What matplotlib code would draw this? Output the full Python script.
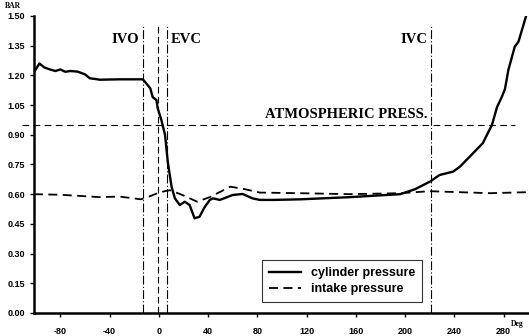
import matplotlib
matplotlib.use("Agg")
import matplotlib.pyplot as plt

# cylinder pressure (BAR) vs crank angle (Deg)
cyl_deg = [-101, -97, -93, -88.5, -84, -80, -76, -72, -66, -60, -56, -52, -48, -32,
           -13, -7, -5, -2, -1, 2, 5, 7.3, 10.3, 13, 17, 21, 25, 29, 33, 37.4,
           41.4, 44, 49.5, 55, 60, 68, 76, 82, 93, 115, 155, 196, 208, 220, 228,
           239, 244.5, 255, 263, 270.5, 274.6, 278.4, 281, 283.8, 289, 292, 298.7]
cyl_bar = [1.22, 1.26, 1.24, 1.23, 1.222, 1.23, 1.218, 1.222, 1.219, 1.205, 1.185,
           1.182, 1.178, 1.18, 1.18, 1.135, 1.09, 1.075, 1.035, 0.975, 0.90, 0.76,
           0.638, 0.579, 0.545, 0.562, 0.545, 0.478, 0.486, 0.537, 0.571, 0.579,
           0.571, 0.584, 0.596, 0.601, 0.579, 0.571, 0.571, 0.574, 0.585, 0.60,
           0.625, 0.663, 0.697, 0.714, 0.739, 0.806, 0.857, 0.95, 1.04, 1.09, 1.13,
           1.227, 1.345, 1.37, 1.51]

# intake pressure
int_deg = [-101.5, -80, -48, -32, -14.6, -7, 0.8, 9, 19.5, 31, 41.4, 58, 70, 82,
           114.5, 155, 196, 220, 244.5, 269, 299]
int_bar = [0.60, 0.597, 0.585, 0.588, 0.574, 0.59, 0.61, 0.62, 0.595, 0.562, 0.585,
           0.638, 0.625, 0.608, 0.605, 0.60, 0.605, 0.615, 0.61, 0.605, 0.61]

atm_press = 0.95
valve_deg = [-13, -1, 7, 221]
yticks = [0.00, 0.15, 0.30, 0.45, 0.60, 0.75, 0.90, 1.05, 1.20, 1.35, 1.50]
xticks = [-80, -40, 0, 40, 80, 120, 160, 200, 240, 280]

fig = plt.figure(figsize=(5.29, 3.36), dpi=100)
ax = fig.add_axes([0.0652, 0.0685, 0.9335, 0.884])

ax.plot(cyl_deg, cyl_bar, color="black", lw=1.7, label="cylinder pressure")
ax.plot(int_deg, int_bar, color="black", lw=1.3, ls=(0, (5, 3)), label="intake pressure")

ax.plot([-111, 289], [atm_press, atm_press], color="black", lw=0.8,
        ls=(0, (6, 4)), clip_on=False)
styles = [(0, (8, 2, 1, 2)), (0, (6, 3)), (0, (8, 2, 1, 2)), (0, (8, 2, 1, 2))]
for d, s in zip(valve_deg, styles):
    ax.plot([d, d], [0, 1.46], color="black", lw=0.8, ls=s)

serif = dict(family="Liberation Serif", weight="bold", fontsize=10.5)
ax.text(-16, 1.38, "IVO", ha="right", va="center", **serif)
ax.text(10, 1.38, "EVC", ha="left", va="center", **serif)
ax.text(218, 1.38, "IVC", ha="right", va="center", **serif)
ax.text(218, 1.00, "ATMOSPHERIC PRESS.", ha="right", va="center", **serif)

ax.set_xlim(-101, 300)
ax.set_ylim(0, 1.5)
ax.set_xticks(xticks)
ax.set_yticks(yticks)
ax.set_xticklabels([str(v) for v in xticks], family="Liberation Sans",
                   weight="bold", fontsize=6.5)
ax.set_yticklabels(["%.2f" % v for v in yticks], family="Liberation Sans",
                   weight="bold", fontsize=6.5)
ax.tick_params(length=3, width=1, pad=4)
ax.tick_params(axis="x", pad=7)
for s in ["top", "right"]:
    ax.spines[s].set_visible(False)
for s in ["left", "bottom"]:
    ax.spines[s].set_linewidth(1.8)

fig.text(0.01, 0.975, "BAR", family="Liberation Serif", weight="bold", fontsize=5.5)
fig.text(0.965, 0.03, "Deg", family="Liberation Serif", weight="bold", fontsize=5.5)

leg = ax.legend(loc="lower left", bbox_to_anchor=(0.4607, 0.037),
                prop=dict(family="Liberation Sans", weight="bold", size=9),
                frameon=True, fancybox=False, handlelength=2.6,
                borderpad=0.55, labelspacing=0.3, borderaxespad=0)
leg.get_frame().set_edgecolor("black")
leg.get_frame().set_linewidth(0.8)

fig.savefig("out.png", dpi=100)
